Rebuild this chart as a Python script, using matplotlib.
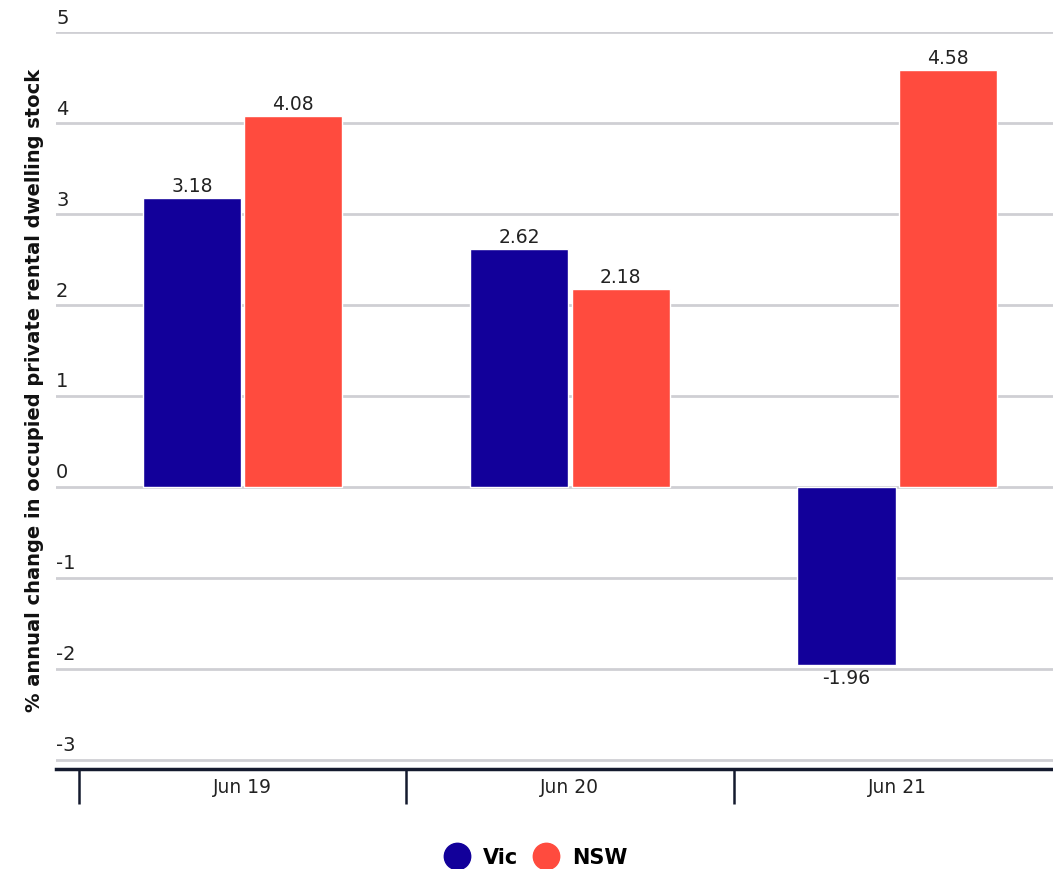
import numpy as np
import matplotlib.pyplot as plt
from matplotlib.lines import Line2D

categories = ["Jun 19", "Jun 20", "Jun 21"]
vic = [3.18, 2.62, -1.96]
nsw = [4.08, 2.18, 4.58]
yticks = [-3, -2, -1, 0, 1, 2, 3, 4, 5]

BLUE = "#12009a"
RED = "#ff4b3e"
plt.rcParams['font.family'] = ['DejaVu Sans']

fig = plt.figure(figsize=(10.53, 8.70), dpi=100)
ax = fig.add_axes([56 / 1053, 1 - 770 / 870, 1 - 56 / 1053, (770 - 33) / 870])

x = np.arange(len(categories))
w = 0.30
b1 = ax.bar(x - w / 2 - 0.005, vic, w, color=BLUE, edgecolor="white", linewidth=1, zorder=3)
b2 = ax.bar(x + w / 2 + 0.005, nsw, w, color=RED, edgecolor="white", linewidth=1, zorder=3)

for bars in (b1, b2):
    for r in bars:
        h = r.get_height()
        cx = r.get_x() + r.get_width() / 2
        if h >= 0:
            ax.text(cx, h + 0.03, f"{h:.2f}", ha="center", va="bottom", fontsize=13.5, color="#222")
        else:
            ax.text(cx, h - 0.03, f"{h:.2f}", ha="center", va="top", fontsize=13.5, color="#222")

# gridlines with labels sitting above them
for t in yticks:
    ax.axhline(t, color="#cfcfd4", linewidth=2, zorder=1)
    ax.text(-0.57, t + 0.06, str(t), ha="left", va="bottom", fontsize=14, color="#222")
ax.set_yticks([])

for s in ("top", "right", "left"):
    ax.spines[s].set_visible(False)
ax.spines["bottom"].set_color("#141a2e")
ax.spines["bottom"].set_linewidth(2.5)

ax.set_xticks(x)
ax.set_xticklabels(categories, fontsize=13.5, color="#222")
ax.tick_params(axis="x", which="major", length=0, pad=6)
ax.set_xticks([-0.5, 0.5, 1.5, 2.5], minor=True)
ax.tick_params(axis="x", which="minor", length=25, width=1.8, color="#141a2e")

ax.set_xlim(-0.57, 2.476)
ax.set_ylim(-3.1, 5)

fig.text(35 / 1053, 1 - 390 / 870, "% annual change in occupied private rental dwelling stock",
         rotation=90, ha="center", va="center", fontsize=14, fontweight="bold", color="#111")

handles = [Line2D([], [], marker="o", linestyle="", markersize=19, color=BLUE, label="Vic"),
           Line2D([], [], marker="o", linestyle="", markersize=19, color=RED, label="NSW")]
leg = fig.legend(handles=handles, loc="center", bbox_to_anchor=(532 / 1053, 1 - 858 / 870),
                 ncol=2, frameon=False, handletextpad=0.25, columnspacing=0.35,
                 prop={"weight": "bold", "size": 15})

fig.savefig("out.png", dpi=100)
